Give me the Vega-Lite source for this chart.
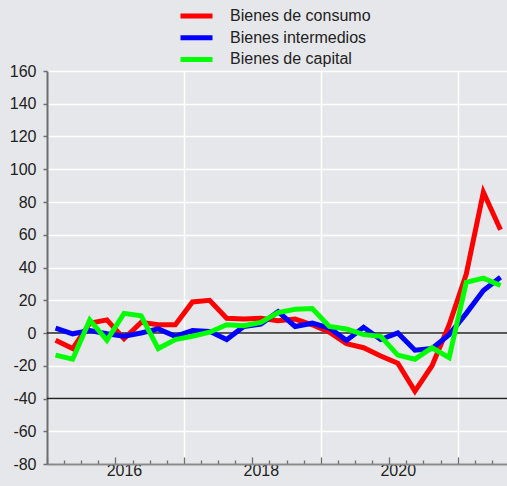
{
  "$schema": "https://vega.github.io/schema/vega-lite/v6.json",
  "width": 460,
  "height": 393,
  "autosize": {"type": "none"},
  "padding": {"left": 47, "top": 71, "right": 0, "bottom": 22},
  "background": "#E6E7EA",
  "config": {
    "view": {"stroke": null, "fill": "#E6E7EA"},
    "font": "Liberation Sans",
    "axis": {"labelFont": "Liberation Sans", "labelColor": "#222222", "labelFontSize": 16},
    "axisY": {
      "values": [-80, -60, -40, -20, 0, 20, 40, 60, 80, 100, 120, 140, 160],
      "title": null,
      "grid": true, "gridColor": "#FFFFFF", "gridWidth": 1.5,
      "domain": true, "domainColor": "#6E6E6E", "domainWidth": 2,
      "ticks": true, "tickColor": "#6E6E6E", "tickSize": 4, "tickWidth": 1.5,
      "labelOverlap": false, "labelFlush": false,
      "labelExpr": "datum.value + ''",
      "labelPadding": 7, "labelFontSize": 16
    },
    "legend": {"labelFont": "Liberation Sans"}
  },
  "layer": [
    {
      "data": {"values": [{"y": 0}, {"y": -40}]},
      "mark": {"type": "rule", "color": "#222222", "strokeWidth": 1.3},
      "encoding": {
        "y": {"field": "y", "type": "quantitative", "scale": {"domain": [-80, 160], "nice": false, "zero": false},
          "axis": {"title": null, "values": [-80, -60, -40, -20, 0, 20, 40, 60, 80, 100, 120, 140, 160], "labelOverlap": false, "labelExpr": "datum.value + ''"}
        }
      }
    },
    {
      "data": {
        "values": [
          {"t": 2015.125, "s": "Bienes de consumo", "v": -4.5},
          {"t": 2015.375, "s": "Bienes de consumo", "v": -9.5},
          {"t": 2015.625, "s": "Bienes de consumo", "v": 6},
          {"t": 2015.875, "s": "Bienes de consumo", "v": 8},
          {"t": 2016.125, "s": "Bienes de consumo", "v": -3.5},
          {"t": 2016.375, "s": "Bienes de consumo", "v": 6.5},
          {"t": 2016.625, "s": "Bienes de consumo", "v": 5},
          {"t": 2016.875, "s": "Bienes de consumo", "v": 5},
          {"t": 2017.125, "s": "Bienes de consumo", "v": 19},
          {"t": 2017.375, "s": "Bienes de consumo", "v": 20},
          {"t": 2017.625, "s": "Bienes de consumo", "v": 9},
          {"t": 2017.875, "s": "Bienes de consumo", "v": 8.5},
          {"t": 2018.125, "s": "Bienes de consumo", "v": 9},
          {"t": 2018.375, "s": "Bienes de consumo", "v": 7.5},
          {"t": 2018.625, "s": "Bienes de consumo", "v": 8.5},
          {"t": 2018.875, "s": "Bienes de consumo", "v": 5},
          {"t": 2019.125, "s": "Bienes de consumo", "v": 0.5},
          {"t": 2019.375, "s": "Bienes de consumo", "v": -6.5},
          {"t": 2019.625, "s": "Bienes de consumo", "v": -9},
          {"t": 2019.875, "s": "Bienes de consumo", "v": -14},
          {"t": 2020.125, "s": "Bienes de consumo", "v": -18.5},
          {"t": 2020.375, "s": "Bienes de consumo", "v": -35.5},
          {"t": 2020.625, "s": "Bienes de consumo", "v": -20},
          {"t": 2020.875, "s": "Bienes de consumo", "v": 5},
          {"t": 2021.125, "s": "Bienes de consumo", "v": 36},
          {"t": 2021.375, "s": "Bienes de consumo", "v": 86},
          {"t": 2021.625, "s": "Bienes de consumo", "v": 63},
          {"t": 2015.125, "s": "Bienes intermedios", "v": 3},
          {"t": 2015.375, "s": "Bienes intermedios", "v": -0.5},
          {"t": 2015.625, "s": "Bienes intermedios", "v": 1.5},
          {"t": 2015.875, "s": "Bienes intermedios", "v": -0.5},
          {"t": 2016.125, "s": "Bienes intermedios", "v": -2},
          {"t": 2016.375, "s": "Bienes intermedios", "v": 0},
          {"t": 2016.625, "s": "Bienes intermedios", "v": 2.5},
          {"t": 2016.875, "s": "Bienes intermedios", "v": -2},
          {"t": 2017.125, "s": "Bienes intermedios", "v": 1.5},
          {"t": 2017.375, "s": "Bienes intermedios", "v": 1},
          {"t": 2017.625, "s": "Bienes intermedios", "v": -4},
          {"t": 2017.875, "s": "Bienes intermedios", "v": 4},
          {"t": 2018.125, "s": "Bienes intermedios", "v": 5.5},
          {"t": 2018.375, "s": "Bienes intermedios", "v": 13},
          {"t": 2018.625, "s": "Bienes intermedios", "v": 4},
          {"t": 2018.875, "s": "Bienes intermedios", "v": 6},
          {"t": 2019.125, "s": "Bienes intermedios", "v": 3},
          {"t": 2019.375, "s": "Bienes intermedios", "v": -4.5},
          {"t": 2019.625, "s": "Bienes intermedios", "v": 3.5},
          {"t": 2019.875, "s": "Bienes intermedios", "v": -4},
          {"t": 2020.125, "s": "Bienes intermedios", "v": 0},
          {"t": 2020.375, "s": "Bienes intermedios", "v": -10.5},
          {"t": 2020.625, "s": "Bienes intermedios", "v": -9.5},
          {"t": 2020.875, "s": "Bienes intermedios", "v": -1},
          {"t": 2021.125, "s": "Bienes intermedios", "v": 12},
          {"t": 2021.375, "s": "Bienes intermedios", "v": 26},
          {"t": 2021.625, "s": "Bienes intermedios", "v": 34},
          {"t": 2015.125, "s": "Bienes de capital", "v": -13.5},
          {"t": 2015.375, "s": "Bienes de capital", "v": -16},
          {"t": 2015.625, "s": "Bienes de capital", "v": 8},
          {"t": 2015.875, "s": "Bienes de capital", "v": -4.5},
          {"t": 2016.125, "s": "Bienes de capital", "v": 12},
          {"t": 2016.375, "s": "Bienes de capital", "v": 10.5},
          {"t": 2016.625, "s": "Bienes de capital", "v": -9.5},
          {"t": 2016.875, "s": "Bienes de capital", "v": -4},
          {"t": 2017.125, "s": "Bienes de capital", "v": -2},
          {"t": 2017.375, "s": "Bienes de capital", "v": 0.5},
          {"t": 2017.625, "s": "Bienes de capital", "v": 5},
          {"t": 2017.875, "s": "Bienes de capital", "v": 4.5},
          {"t": 2018.125, "s": "Bienes de capital", "v": 6.5},
          {"t": 2018.375, "s": "Bienes de capital", "v": 12.5},
          {"t": 2018.625, "s": "Bienes de capital", "v": 14.5},
          {"t": 2018.875, "s": "Bienes de capital", "v": 15},
          {"t": 2019.125, "s": "Bienes de capital", "v": 4},
          {"t": 2019.375, "s": "Bienes de capital", "v": 2.5},
          {"t": 2019.625, "s": "Bienes de capital", "v": -1},
          {"t": 2019.875, "s": "Bienes de capital", "v": -2},
          {"t": 2020.125, "s": "Bienes de capital", "v": -13.5},
          {"t": 2020.375, "s": "Bienes de capital", "v": -16},
          {"t": 2020.625, "s": "Bienes de capital", "v": -9},
          {"t": 2020.875, "s": "Bienes de capital", "v": -15},
          {"t": 2021.125, "s": "Bienes de capital", "v": 31},
          {"t": 2021.375, "s": "Bienes de capital", "v": 33.5},
          {"t": 2021.625, "s": "Bienes de capital", "v": 29}
        ]
      },
      "mark": {"type": "line", "strokeWidth": 5, "strokeJoin": "miter", "strokeCap": "butt", "clip": true},
      "encoding": {
        "x": {
          "field": "t", "type": "quantitative",
          "scale": {"domain": [2015, 2021.72], "nice": false, "zero": false},
          "axis": {
            "title": null,
            "values": [2015, 2015.25, 2015.5, 2015.75, 2016, 2016.25, 2016.5, 2016.75, 2017, 2017.25, 2017.5, 2017.75, 2018, 2018.25, 2018.5, 2018.75, 2019, 2019.25, 2019.5, 2019.75, 2020, 2020.25, 2020.5, 2020.75, 2021, 2021.25, 2021.5],
            "grid": true,
            "gridColor": {"condition": {"test": "datum.value == 2017 || datum.value == 2019 || datum.value == 2021", "value": "#FFFFFF"}, "value": "transparent"},
            "gridWidth": 1.5,
            "domain": true, "domainColor": "#8A8A8A", "domainWidth": 2,
            "ticks": true, "tickColor": "#6E6E6E", "tickWidth": 1.3,
            "tickSize": {"condition": {"test": "datum.value == floor(datum.value)", "value": -7}, "value": -4},
            "labelExpr": "datum.value == 2016 || datum.value == 2018 || datum.value == 2020 ? format(datum.value, 'd') : ''",
            "labelOverlap": false, "labelFlush": false,
            "labelOffset": 8.5, "labelPadding": 5, "labelFontSize": 16
          }
        },
        "y": {"field": "v", "type": "quantitative",
          "axis": {"title": null, "values": [-80, -60, -40, -20, 0, 20, 40, 60, 80, 100, 120, 140, 160], "labelOverlap": false, "labelExpr": "datum.value + ''"}
        },
        "color": {
          "field": "s", "type": "nominal",
          "scale": {"domain": ["Bienes de consumo", "Bienes intermedios", "Bienes de capital"], "range": ["#FF0000", "#0000FF", "#00FF00"]},
          "legend": {
            "title": null, "orient": "none", "legendX": 131, "legendY": -63,
            "symbolType": "stroke", "symbolSize": 1024, "symbolStrokeWidth": 5,
            "clipHeight": 16, "rowPadding": 5.7, "labelOffset": 15,
            "labelFontSize": 16, "labelColor": "#222222"
          }
        }
      }
    }
  ]
}
